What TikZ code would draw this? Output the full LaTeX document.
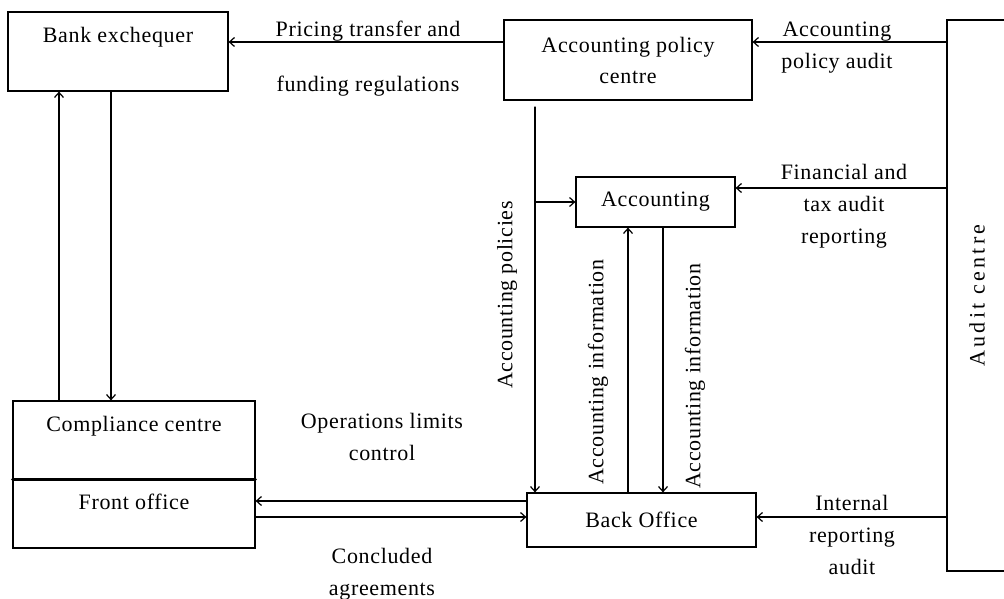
\documentclass[tikz,border=0pt]{standalone}
\usepackage{fontspec}
\setmainfont[LetterSpace=3]{Liberation Serif}
\usetikzlibrary{arrows.meta}

\begin{document}
\begin{tikzpicture}
			[x=1pt,y=-1pt,line cap=round,
			%Styles
			block/.style={draw,line width=1.2pt,inner sep=0pt,align=center,font=\fontsize{22}{33}\selectfont},
			flow/.style={-{Straight Barb[length=5pt,width=9pt]},line width=1.2pt},
			flow text/.style={align=center,inner sep=0pt,font=\fontsize{22}{32}\selectfont},
			side text/.style={rotate=90,inner sep=0pt,font=\fontsize{22}{32}\selectfont}
			]
			\useasboundingbox (0,0) rectangle (1004,599);

			%The boxes
			\node[block,minimum width=220pt,minimum height=79pt] (bank) at (118,51.5) {Bank exchequer\\~};
			\node[block,minimum width=248pt,minimum height=80pt,font=\fontsize{22}{31}\selectfont] (policy) at (628,60) {Accounting policy\\centre};
			\node[block,minimum width=60pt,minimum height=551pt] (audit) at (977,295.5) {\addfontfeature{LetterSpace=15}\rotatebox{90}{Audit centre}};
			\node[block,minimum width=159pt,minimum height=50pt] (acc) at (655.5,202) {Accounting};
			\node[block,minimum width=229pt,minimum height=54pt] (back) at (641.5,520) {Back Office};
			\node[block,minimum width=242pt,minimum height=78pt] (comp) at (134,440) {Compliance centre\\~};
			\node[block,minimum width=242pt,minimum height=69pt] (front) at (134,513.5) {Front office\\[-10pt]~};
			\draw[line width=2.4pt] (comp.south west) -- (comp.south east);

			%The graphic
			\draw[flow] ([yshift=18pt]policy.west) -- ([yshift=18pt]policy.west -| bank.east);
			\draw[flow] ([yshift=18pt]policy.east -| audit.west) -- ([yshift=18pt]policy.east);
			\coordinate (policy out) at (535,107);
			\draw[flow] (policy out) -- (policy out |- back.north);
			\draw[flow] (policy out |- acc.west) -- (acc.west);
			\draw[flow] ([yshift=14pt]acc.east -| audit.west) -- ([yshift=14pt]acc.east);
			\draw[flow] ([yshift=3pt]back.east -| audit.west) -- ([yshift=3pt]back.east);
			\draw[flow] ([xshift=-13.5pt]back.north) -- ([xshift=-13.5pt]back.north |- acc.south);
			\draw[flow] ([xshift=21.5pt]back.north |- acc.south) -- ([xshift=21.5pt]back.north);
			\draw[flow] ([yshift=19pt]back.west) -- ([yshift=19pt]back.west -| front.east);
			\draw[flow] ([yshift=3pt]back.west -| front.east) -- ([yshift=3pt]back.west);
			\draw[flow] ([xshift=-59pt]bank.south |- comp.north) -- ([xshift=-59pt]bank.south);
			\draw[flow] ([xshift=-7pt]bank.south) -- ([xshift=-7pt]bank.south |- comp.north);

			%Labels
			\node[flow text] (pricing) at (368,31) {Pricing transfer and};
			\node[flow text] (funding) at (368,86) {funding regulations};
			\node[flow text] (policy audit) at (837,48) {Accounting\\policy audit};
			\node[flow text] (tax audit) at (844,206) {Financial and\\tax audit\\reporting};
			\node[flow text] (internal audit) at (852,535) {Internal\\reporting\\audit};
			\node[flow text] (limits) at (382,437) {Operations limits\\control};
			\node[flow text] (agreements) at (382,574) {Concluded\\agreements};
			\node[side text] (policies) at (507,295) {Accounting policies};
			\node[side text] (info up) at (598,372) {Accounting information};
			\node[side text] (info down) at (695,376) {Accounting information};
		\end{tikzpicture}
\end{document}
